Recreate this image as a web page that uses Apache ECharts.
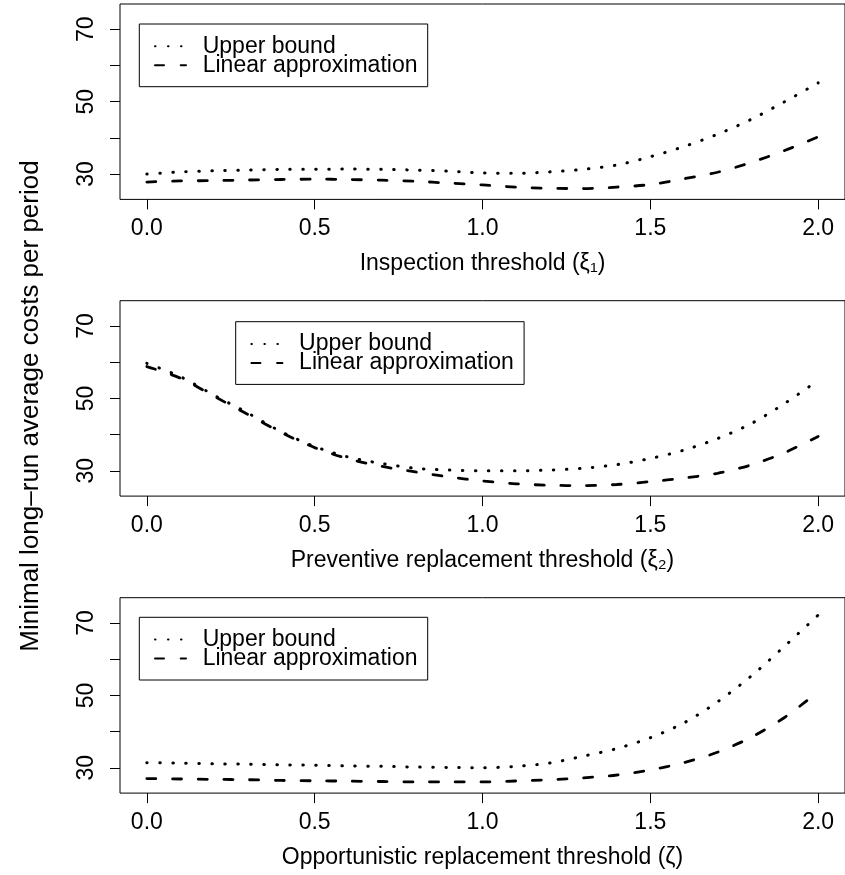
<!DOCTYPE html>
<html>
<head>
<meta charset="utf-8">
<script src="https://cdn.jsdelivr.net/npm/echarts@6/dist/echarts.min.js"></script>
<style>
  html, body { margin: 0; padding: 0; background: #fff; }
  #chart { width: 845px; height: 875px; }
</style>
</head>
<body>
<div id="chart"></div>
<script>
  // threshold values along each x axis
  const thresholds = [0, 0.1, 0.2, 0.3, 0.4, 0.5, 0.6, 0.7, 0.8, 0.9, 1.0,
    1.1, 1.2, 1.3, 1.4, 1.5, 1.6, 1.7, 1.8, 1.9, 2.0]

  // panel 1: inspection threshold
  const upperInspection = [30.0, 30.6, 30.9, 31.1, 31.3, 31.3, 31.4, 31.3, 31.1, 30.8, 30.3,
    30.2, 30.6, 31.3, 32.5, 34.8, 37.6, 41.0, 45.1, 50.0, 55.2]
  const linearInspection = [27.8, 28.1, 28.2, 28.35, 28.5, 28.6, 28.5, 28.3, 28.0, 27.5, 27.0,
    26.4, 26.05, 26.0, 26.4, 27.1, 28.7, 30.5, 33.2, 36.5, 40.3]

  // panel 2: preventive replacement threshold
  const upperPreventive = [59.7, 56.0, 50.9, 46.0, 40.8, 36.7, 33.8, 32.0, 30.7, 30.2, 30.0,
    30.0, 30.2, 30.7, 31.7, 33.4, 35.7, 38.9, 43.0, 48.6, 55.0]
  const linearPreventive = [58.8, 55.6, 50.6, 45.6, 40.6, 36.4, 33.3, 31.2, 29.7, 28.3, 27.2,
    26.4, 26.0, 25.9, 26.2, 27.0, 28.0, 29.3, 31.6, 35.0, 39.5]

  // panel 3: opportunistic replacement threshold
  const upperOpportunistic = [31.4, 31.3, 31.1, 31.0, 30.8, 30.7, 30.5, 30.4, 30.2, 30.1, 30.0,
    30.4, 31.3, 33.2, 35.3, 38.3, 42.4, 48.2, 55.3, 63.6, 72.2]
  const linearOpportunistic = [27.0, 26.9, 26.8, 26.7, 26.5, 26.4, 26.3, 26.2, 26.1, 26.1, 26.1,
    26.35, 26.7, 27.2, 28.0, 29.4, 31.4, 34.3, 38.4, 43.9, 51.0]

  const xTicks = [0, 0.5, 1, 1.5, 2]
  const yTicks = [30, 40, 50, 60, 70]
  const yTickLabels = [30, 50, 70]
  const seriesNames = ['Upper bound', 'Linear approximation']
  const xTitles = [
    'Inspection threshold (ξ₁)',
    'Preventive replacement threshold (ξ₂)',
    'Opportunistic replacement threshold (ζ)'
  ]
  const yTitle = 'Minimal long–run average costs per period'

  const FONT = '"Liberation Sans", Arial, Helvetica, sans-serif'
  const panels = [
    { top: 4, upper: upperInspection, linear: linearInspection, legendLeft: 139.3, legendTop: 24 },
    { top: 300.7, upper: upperPreventive, linear: linearPreventive, legendLeft: 235.7, legendTop: 321.7 },
    { top: 597.7, upper: upperOpportunistic, linear: linearOpportunistic, legendLeft: 139.3, legendTop: 617.3 }
  ]

  const pairs = (ys) => thresholds.map((x, i) => [x, ys[i]])

  const dotted = { color: '#000', width: 3, type: [0.5, 12.5], cap: 'round' }
  const dashed = { color: '#000', width: 2.8, type: [9, 16.7], cap: 'round' }

  let grid = [], xAxis = [], yAxis = [], series = [], legend = []
  panels.forEach((p, i) => {
    grid.push({
      left: 120, top: p.top, width: 729.3, height: 195.4,
      show: true, borderColor: '#000', borderWidth: 1, backgroundColor: 'transparent'
    })
    xAxis.push({
      type: 'value', gridIndex: i, min: -0.08, max: 2.08,
      name: xTitles[i], nameLocation: 'middle', nameGap: 53,
      nameTextStyle: { fontSize: 23, fontFamily: FONT, color: '#000' },
      axisLine: { show: false, onZero: false },
      splitLine: { show: false },
      axisTick: { show: true, length: 10, customValues: xTicks, lineStyle: { color: '#000', width: 1 } },
      axisLabel: {
        customValues: xTicks, margin: 18, fontSize: 23, fontFamily: FONT, color: '#000',
        formatter: (v) => v.toFixed(1)
      }
    })
    yAxis.push({
      type: 'value', gridIndex: i, min: 23, max: 77,
      axisLine: { show: false, onZero: false },
      splitLine: { show: false },
      axisTick: { show: true, length: 10, customValues: yTicks, lineStyle: { color: '#000', width: 1 } },
      axisLabel: {
        customValues: yTickLabels, rotate: 90, margin: 22, fontSize: 23, fontFamily: FONT, color: '#000',
        align: 'center', verticalAlign: 'bottom'
      }
    })
    series.push({
      name: seriesNames[0], type: 'line', xAxisIndex: i, yAxisIndex: i, color: '#000',
      data: pairs(p.upper), symbol: 'none', smooth: 0.3, lineStyle: dotted, silent: true
    })
    series.push({
      name: seriesNames[1], type: 'line', xAxisIndex: i, yAxisIndex: i, color: '#000',
      data: pairs(p.linear), symbol: 'none', smooth: 0.3, lineStyle: dashed, silent: true
    })
    legend.push({
      data: seriesNames, orient: 'vertical', left: p.legendLeft, top: p.legendTop,
      itemWidth: 31, itemHeight: 14, itemGap: -4,
      padding: [10.7, 10.2, 10, 14.7],
      borderColor: '#000', borderWidth: 1, borderRadius: 0,
      selectedMode: false,
      itemStyle: { opacity: 0 },
      textStyle: { fontSize: 23, fontFamily: FONT, color: '#000', lineHeight: 20, padding: [0, 0, 0, 11.7] }
    })
  })

  let myChart = echarts.init(document.getElementById('chart'), null, { renderer: 'canvas' })
  myChart.setOption({
    animation: false,
    backgroundColor: '#fff',
    grid: grid,
    xAxis: xAxis,
    yAxis: yAxis,
    legend: legend,
    series: series,
    graphic: [{
      type: 'text', x: 31, y: 406, rotation: Math.PI / 2,
      style: { text: yTitle, fontSize: 26, fontFamily: FONT, fill: '#000', align: 'center', verticalAlign: 'middle' }
    }]
  })
</script>
</body>
</html>
